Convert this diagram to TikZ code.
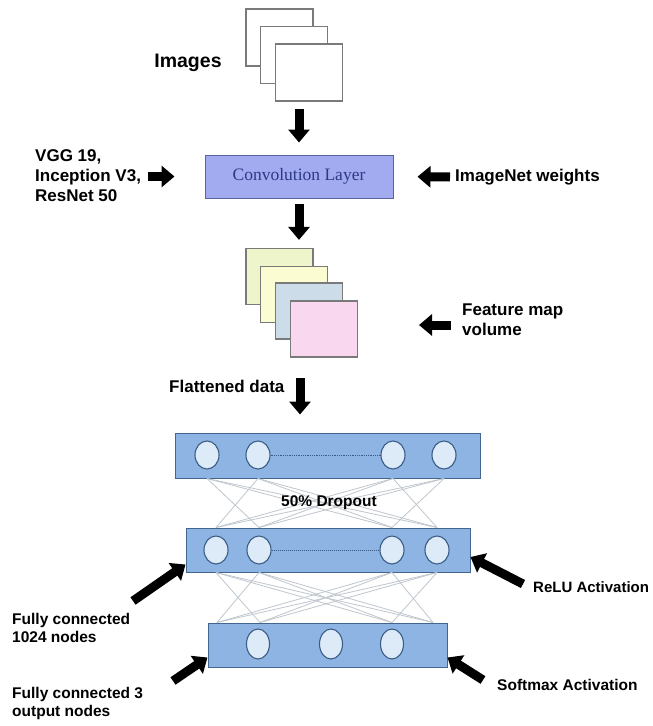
\documentclass[tikz,border=0pt]{standalone}
\usepackage{fontspec}
\setmainfont{Liberation Sans}
\newfontfamily\convfont{Liberation Serif}
\usetikzlibrary{arrows.meta,shapes.geometric}
\definecolor{framegray}{HTML}{7A7A7A}
\definecolor{convfill}{HTML}{A2AAF0}
\definecolor{convdraw}{HTML}{5A62A0}
\definecolor{convtext}{HTML}{2D3A85}
\definecolor{layerfill}{HTML}{8EB4E3}
\definecolor{layerdraw}{HTML}{41678F}
\definecolor{circfill}{HTML}{DDEBF8}
\definecolor{circdraw}{HTML}{3B5C86}
\definecolor{fmA}{HTML}{EEF5CB}
\definecolor{fmB}{HTML}{FBFCD2}
\definecolor{fmC}{HTML}{CCDDE9}
\definecolor{fmD}{HTML}{F8D7EF}
\definecolor{netline}{HTML}{BFC6CE}
\begin{document}
\begin{tikzpicture}[x=1pt,y=-1pt,
  frame/.style={draw=framegray, line width=1.2pt, minimum width=67pt, minimum height=57pt, inner sep=0pt},
  layerbox/.style={draw=layerdraw, fill=layerfill, line width=1pt, inner sep=0pt},
  neuron/.style={ellipse, draw=circdraw, fill=circfill, line width=1.1pt, minimum width=24pt, minimum height=28pt, inner sep=0pt},
  blk/.style={line width=9pt, -{Triangle[length=13pt,width=21pt]}},
  lblA/.style={font=\bfseries\fontsize{17}{20}\selectfont, align=left, inner sep=0pt},
  lblB/.style={font=\bfseries\fontsize{15.5}{18}\selectfont, align=left, inner sep=0pt},
  net/.style={draw=netline, line width=0.8pt}]
\useasboundingbox (0,0) rectangle (653,726);
\fill[white] (0,0) rectangle (653,726);

% input images
\node[frame, fill=white] (img1) at (279.5,37.5) {};
\node[frame, fill=white] (img2) at (294,55) {};
\node[frame, fill=white] (img3) at (309,72.5) {};
\node[font=\bfseries\fontsize{19.5}{22}\selectfont, inner sep=0pt] (imgl) at (188,63) {Images};

% convolution layer
\node[draw=convdraw, fill=convfill, line width=1pt, minimum width=188pt, minimum height=43pt, inner sep=0pt,
      font=\convfont\fontsize{17.5}{20}\selectfont, text=convtext] (conv) at (299,176.5) {Convolution Layer};
\node[lblA, anchor=west] (vgg) at (35,176) {VGG 19,\\Inception V3,\\ResNet 50};
\node[lblA, anchor=west] (inet) at (455,177) {ImageNet weights};

% feature maps
\node[frame, minimum height=56pt, fill=fmA] (fm1) at (279.5,276.5) {};
\node[frame, minimum height=56pt, fill=fmB] (fm2) at (294,294.5) {};
\node[frame, minimum height=56pt, fill=fmC] (fm3) at (309,311) {};
\node[frame, minimum height=56pt, fill=fmD] (fm4) at (324,329) {};
\node[lblA, anchor=west] (fml) at (462,320) {Feature map\\volume};
\node[lblA, anchor=west] (flat) at (169,386) {Flattened data};

% dense layers
\node[layerbox, minimum width=305pt, minimum height=45pt] (L1) at (327.5,455.5) {};
\node[layerbox, minimum width=284pt, minimum height=44pt] (L2) at (328,550) {};
\node[layerbox, minimum width=239pt, minimum height=44pt] (L3) at (327.5,645) {};

% connections between layers
\coordinate (a1) at (207,455); \coordinate (a2) at (258,455);
\coordinate (a3) at (393,455); \coordinate (a4) at (444,455);
\coordinate (b1) at (216,550); \coordinate (b2) at (259,550);
\coordinate (b3) at (392,550); \coordinate (b4) at (437,550);
\coordinate (t1) at (217,645); \coordinate (t2) at (260,645);
\coordinate (t3) at (392,645); \coordinate (t4) at (433,645);
\foreach \i in {1,...,4}{
  \foreach \j in {1,...,4}{
    \ifnum\i=\j\else
      \draw[net] (L1.south -| a\i) -- (L2.north -| b\j);
      \draw[net] (L2.south -| b\i) -- (L3.north -| t\j);
    \fi
  }
}

\node[neuron] (n11) at (a1) {};
\node[neuron] (n12) at (a2) {};
\node[neuron] (n13) at (a3) {};
\node[neuron] (n14) at (a4) {};
\draw[circdraw, densely dotted, line width=0.8pt] (n12) -- (n13);

\node[neuron] (n21) at (b1) {};
\node[neuron] (n22) at (b2) {};
\node[neuron] (n23) at (b3) {};
\node[neuron] (n24) at (b4) {};
\draw[circdraw, densely dotted, line width=1pt] (n22) -- (n23);

\node[neuron, minimum width=23pt, minimum height=30pt] (n31) at (258,644) {};
\node[neuron, minimum width=23pt, minimum height=30pt] (n32) at (331,644) {};
\node[neuron, minimum width=23pt, minimum height=30pt] (n33) at (392,644) {};

\node[lblB] (drop) at (329,503) {50\% Dropout};
\node[lblB, anchor=west, font=\bfseries\fontsize{15}{18}\selectfont] (relu) at (533,587) {ReLU Activation};
\node[lblB, anchor=west] (soft) at (497,685) {Softmax Activation};
\node[lblB, anchor=west] (fc1) at (12,628) {Fully connected\\1024 nodes};
\node[lblB, anchor=west] (fc3) at (12,703) {Fully connected 3\\output nodes};

% arrows
\draw[blk, shorten <=7pt, shorten >=12pt] (img3.south -| conv.north) -- (conv.north);
\draw[blk, shorten <=5pt, shorten >=8pt] (conv.south) -- (fm1.north -| conv.south);
\coordinate (flatT) at (300,378);
\draw[blk, shorten >=18pt] (flatT) -- (L1.north -| flatT);
\draw[blk, shorten <=7pt, shorten >=30pt] (vgg.east |- conv.west) -- (conv.west);
\draw[blk, shorten <=5pt, shorten >=24pt] (inet.west) -- (conv.east);
\coordinate (fmT) at (451,325);
\coordinate (fmH) at (419,325);
\draw[blk] (fmT) -- (fmH);
\coordinate (reluT) at (523,584);
\draw[blk] (reluT) -- ([yshift=-7pt]L2.east);
\coordinate (fc1T) at (133,601);
\draw[blk] (fc1T) -- ([yshift=8pt]L2.south west);
\coordinate (softT) at (483,680);
\draw[blk] (softT) -- ([yshift=10pt]L3.south east);
\coordinate (fc3T) at (173,681);
\draw[blk] (fc3T) -- ([yshift=10pt]L3.south west);
\end{tikzpicture}
\end{document}
